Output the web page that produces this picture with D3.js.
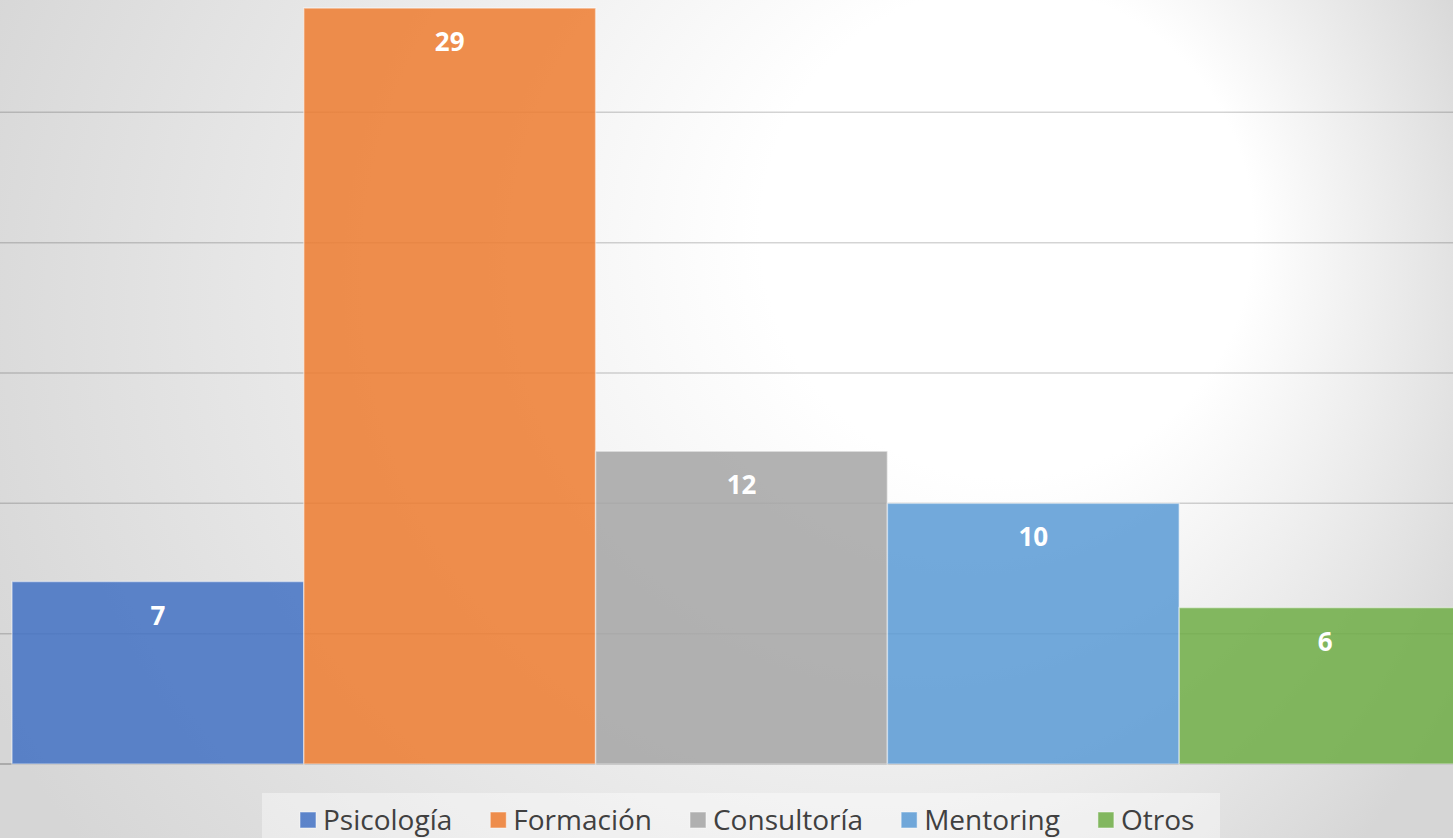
<!DOCTYPE html>
<html>
<head>
<meta charset="utf-8">
<script src="https://cdn.jsdelivr.net/npm/d3@7"></script>
<style>
  body { margin:0; padding:0; overflow:hidden; }
  svg { display:block; }
</style>
</head>
<body>
<svg id="chart" width="1453" height="838"></svg>
<script>
// chart data
var categories = ["Psicología", "Formación", "Consultoría", "Mentoring", "Otros"];
var values = [7, 29, 12, 10, 6];
var colors = ["#4472c4", "#ed7d31", "#a5a5a5", "#5b9bd5", "#70ad47"];
var yTicks = [0, 5, 10, 15, 20, 25, 30];

var svg = d3.select("#chart");
var W = 1453, H = 838;

// background gradient, bright spot upper right
var defs = svg.append("defs");
var grad = defs.append("radialGradient")
  .attr("id","bg")
  .attr("gradientUnits","userSpaceOnUse")
  .attr("cx",720).attr("cy",330).attr("r",820)
  .attr("fx",1130).attr("fy",190);
grad.append("stop").attr("offset","0").attr("stop-color","#ffffff");
grad.append("stop").attr("offset","0.3").attr("stop-color","#ffffff");
grad.append("stop").attr("offset","1").attr("stop-color","#d6d6d6");

svg.append("rect")
  .attr("width",W).attr("height",H)
  .attr("fill","url(#bg)");

var x = d3.scaleBand()
  .domain(categories)
  .range([12, 12 + 5*291.8])
  .padding(0);

var y = d3.scaleLinear()
  .domain([0, 30])
  .range([764, 764 - 782]);

// gridlines
svg.append("g").selectAll("line")
  .data(yTicks)
  .join("line")
  .attr("x1",0).attr("x2",W)
  .attr("y1",d => y(d)).attr("y2",d => y(d))
  .attr("stroke", d => d==0 ? "#9c9c9c" : "#000")
  .attr("stroke-opacity", d => d==0 ? 1 : 0.17)
  .attr("stroke-width",1.5);

// bars
svg.append("g").selectAll("rect")
  .data(values)
  .join("rect")
  .attr("x",(d,i) => x(categories[i]))
  .attr("y",d => y(d))
  .attr("width",x.bandwidth())
  .attr("height",d => y(0) - y(d))
  .attr("fill",(d,i) => colors[i])
  .attr("fill-opacity",0.86)
  .attr("stroke","#ffffff")
  .attr("stroke-opacity",0.45)
  .attr("stroke-width",1.5);

// data labels
svg.append("g").selectAll("text")
  .data(values)
  .join("text")
  .attr("x",(d,i) => x(categories[i]) + x.bandwidth()/2)
  .attr("y",d => y(d) + 43)
  .attr("text-anchor","middle")
  .attr("font-family","'Open Sans', sans-serif")
  .attr("font-weight","bold")
  .attr("font-size",26)
  .attr("fill","#ffffff")
  .text(d => d);

// legend
svg.append("rect")
  .attr("x",262).attr("y",793)
  .attr("width",958).attr("height",50)
  .attr("fill","#ffffff").attr("fill-opacity",0.4);

var legend = svg.append("g");
var lx = 300;
categories.forEach(function(c,i){
  legend.append("rect")
    .attr("x",lx).attr("y",812)
    .attr("width",16).attr("height",16)
    .attr("fill",colors[i]).attr("fill-opacity",0.86)
    .attr("stroke","#fff").attr("stroke-opacity",0.5);
  var t = legend.append("text")
    .attr("x",lx + 23).attr("y",830)
    .attr("font-family","'Open Sans', sans-serif")
    .attr("font-size",28)
    .attr("fill","#404040")
    .text(c);
  lx = lx + 23 + t.node().getComputedTextLength() + 38;
});
</script>
</body>
</html>
